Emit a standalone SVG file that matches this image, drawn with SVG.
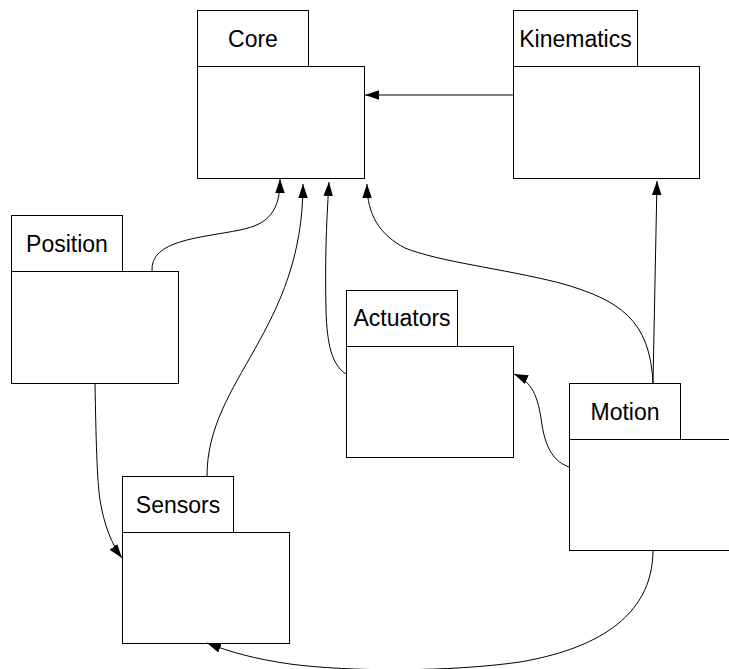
<svg xmlns="http://www.w3.org/2000/svg" width="729" height="669" viewBox="0 0 729 669">
<style>
  .box { fill: #ffffff; stroke: #000000; stroke-width: 1; }
  .lbl { font-family: "Liberation Sans", Arial, sans-serif; font-size: 23px; fill: #000000; text-anchor: middle; }
  .edge { fill: none; stroke: #000000; stroke-width: 1; marker-end: url(#arrow); }
</style>
<defs>
  <marker id="arrow" markerUnits="userSpaceOnUse" markerWidth="14" markerHeight="10" refX="14" refY="4.75" orient="auto" viewBox="0 0 14 9.5">
    <path d="M0,0 L14,4.75 L0,9.5 z" fill="#000000"/>
  </marker>
</defs>
<rect width="729" height="669" fill="#ffffff"/>

<g id="Core">
  <rect class="box" x="197.5" y="10.5" width="111" height="56"/>
  <rect class="box" x="197.5" y="66.5" width="167" height="112"/>
  <text class="lbl" x="253" y="47">Core</text>
</g>
<g id="Kinematics">
  <rect class="box" x="513.5" y="10.5" width="124" height="56"/>
  <rect class="box" x="513.5" y="66.5" width="186" height="112"/>
  <text class="lbl" x="575.5" y="47">Kinematics</text>
</g>
<g id="Position">
  <rect class="box" x="11.5" y="215.5" width="111" height="56"/>
  <rect class="box" x="11.5" y="271.5" width="167" height="112"/>
  <text class="lbl" x="67" y="252">Position</text>
</g>
<g id="Actuators">
  <rect class="box" x="346.5" y="290.5" width="111" height="56"/>
  <rect class="box" x="346.5" y="346.5" width="167" height="111"/>
  <text class="lbl" x="402" y="326">Actuators</text>
</g>
<g id="Motion">
  <rect class="box" x="569.5" y="383.5" width="111" height="56"/>
  <rect class="box" x="569.5" y="439.5" width="167" height="111"/>
  <text class="lbl" x="625" y="419.5">Motion</text>
</g>
<g id="Sensors">
  <rect class="box" x="122.5" y="476.5" width="111" height="56"/>
  <rect class="box" x="122.5" y="532.5" width="167" height="111"/>
  <text class="lbl" x="178" y="512.5">Sensors</text>
</g>

<g id="connectors">
  <path class="edge" d="M513,95 L365,95"/>
  <path class="edge" d="M152,271 C150,240 200,238 240,230 C270,224 280,210 280,179"/>
  <path class="edge" d="M207,476 C207,380 303,330 303,184"/>
  <path class="edge" d="M346,374 C332,365 327,345 326,310 C325,260 326,230 329,182"/>
  <path class="edge" d="M653,383 C650,320 620,300 560,283 C500,268 440,262 405,248 C380,235 367,215 367,184"/>
  <path class="edge" d="M653,383 L657,181"/>
  <path class="edge" d="M569,467 C555,462 546,450 542,425 C538,395 532,382 514,374"/>
  <path class="edge" d="M653,550 C653,620 590,650 520,662 C450,672 350,672 290,664 C255,659 230,652 207,643"/>
  <path class="edge" d="M95,383 C96,440 97,480 100,500 C104,525 112,545 122,558"/>
</g>
</svg>
